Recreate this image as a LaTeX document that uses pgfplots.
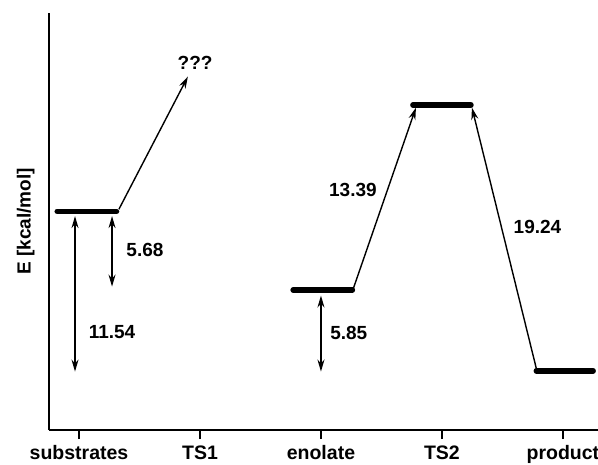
\documentclass[border=0pt]{standalone}
\usepackage{fontspec}
\setmainfont{Liberation Sans}
\usepackage{pgfplots}
\pgfplotsset{compat=1.18}
\usetikzlibrary{arrows.meta,calc}
\tikzset{
 lvl/.style={line width=5.5pt, line cap=round, black},
 arr/.style={line width=1.4pt, black, -{Stealth[length=12pt,width=7pt]}},
 darr/.style={line width=1.4pt, black, {Stealth[length=12pt,width=7pt]}-{Stealth[length=12pt,width=7pt]}},
 lab/.style={font=\fontsize{19}{21}\selectfont\bfseries},
}
\begin{document}
\begin{tikzpicture}
\begin{axis}[
 scale only axis, width=549pt, height=417pt,
 xmin=-0.248, xmax=4.29, ymin=-4.28, ymax=25.9,
 axis x line=bottom, axis y line=left,
 axis line style={-, line width=1.8pt, black},
 xtick={0,1,2,3,4},
 xticklabels={\textbf{substrates},\textbf{TS1},\textbf{enolate},\textbf{TS2},\textbf{product}},
 ytick=\empty,
 tick align=outside, major tick length=9pt,
 tick style={line width=1.6pt, black},
 xticklabel style={font=\fontsize{19.5}{21}\selectfont\bfseries, anchor=base, inner sep=0pt, yshift=-20.5pt},
 ylabel={E [kcal/mol]},
 ylabel style={font=\fontsize{19}{21}\selectfont\bfseries, at={(axis description cs:0,0.5)}, anchor=south, yshift=11pt},
 clip=false,
]
% energy levels
\addplot[lvl] coordinates {(-0.18,11.54) (0.31,11.54)};
\addplot[lvl] coordinates {(1.77,5.85) (2.26,5.85)};
\addplot[lvl] coordinates {(2.76,19.24) (3.24,19.24)};
\addplot[lvl] coordinates {(3.78,0) (4.25,0)};
% arrows
\addplot[arr] coordinates {(0.33,11.7) (0.90,21.3)};
\addplot[arr] coordinates {(2.264,5.87) (2.785,19.05)};
\addplot[arr] coordinates {(3.785,0) (3.248,19.05)};
\addplot[darr] coordinates {(-0.033,11.2) (-0.033,-0.05)};
\addplot[darr] coordinates {(0.273,11.2) (0.273,6.1)};
\addplot[darr] coordinates {(2.0,5.45) (2.0,-0.05)};
% labels
\node[lab] at (axis cs:0.96,22.3) {???};
\node[lab] at (axis cs:0.545,8.77) {5.68};
\node[lab] at (axis cs:0.273,2.83) {11.54};
\node[lab] at (axis cs:2.23,2.75) {5.85};
\node[lab] at (axis cs:2.264,13.1) {13.39};
\node[lab] at (axis cs:3.79,10.43) {19.24};
\end{axis}
\pgfresetboundingbox
\path[use as bounding box] ($(current axis.south west)+(-49pt,-34pt)$) rectangle ($(current axis.north east)+(0pt,13pt)$);
\end{tikzpicture}
\end{document}
